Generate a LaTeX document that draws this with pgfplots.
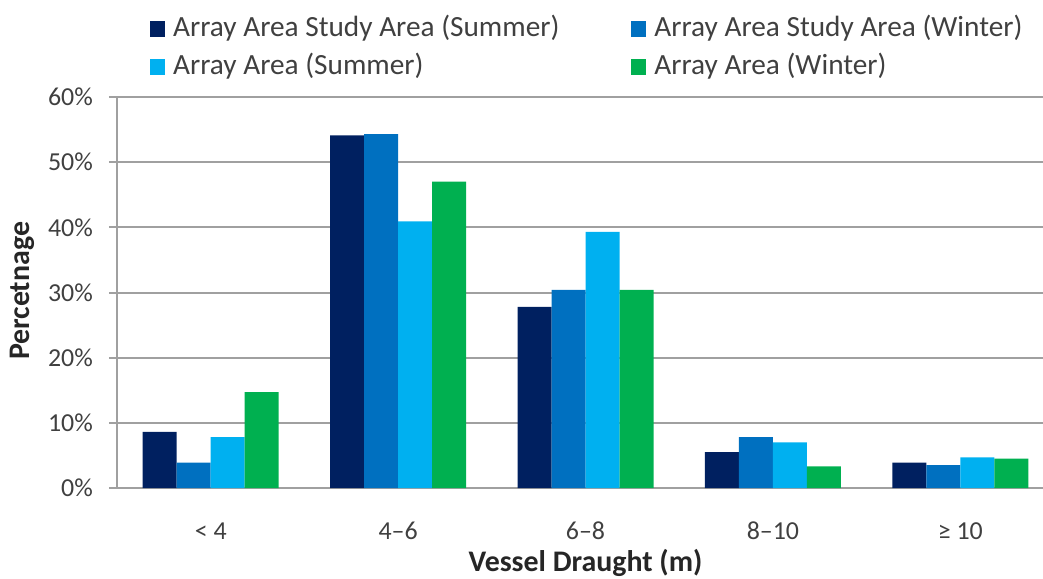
\documentclass[border=0pt]{standalone}
\usepackage{fontspec}
\setmainfont{Carlito}
\usepackage{pgfplots}
\pgfplotsset{compat=1.18}
\definecolor{cNavy}{HTML}{002060}
\definecolor{cBlue}{HTML}{0070C0}
\definecolor{cLight}{HTML}{00B0F0}
\definecolor{cGreen}{HTML}{00B050}
\definecolor{cGrid}{HTML}{A0A0A0}
\definecolor{cText}{HTML}{404040}
\begin{document}
\begin{tikzpicture}
\useasboundingbox (-117bp,-91bp) rectangle (926bp,488bp);
\begin{axis}[
  at={(0,0)}, anchor=south west,
  scale only axis,
  width=937bp, height=391bp,
  ybar=0pt, bar width=34bp,
  xmin=-0.5, xmax=4.5,
  ymin=0, ymax=60,
  xtick={0,1,2,3,4},
  xticklabels={{< 4},{4–6},{6–8},{8–10},{≥ 10}},
  ytick={0,10,20,30,40,50,60},
  yticklabels={0\%,10\%,20\%,30\%,40\%,50\%,60\%},
  axis lines*=left,
  axis line style={cGrid, line width=2bp},
  ymajorgrids, grid style={cGrid, line width=2bp},
  xtick style={draw=none},
  ytick style={cGrid, line width=2bp},
  tick align=outside, major tick length=8bp,
  ticklabel style={font=\fontsize{26}{30}\selectfont, text=cText},
  yticklabel style={anchor=east, inner sep=0pt, xshift=-16bp},
  xticklabel style={anchor=base, inner sep=0pt, yshift=-43bp},
  /pgf/number format/assume math mode=true,
  xlabel={\textbf{Vessel Draught (m)}},
  ylabel={\textbf{Percetnage}},
  xlabel style={at={(rel axis cs:0.5,-0.213)}, anchor=base, font=\fontsize{30}{34}\selectfont, text=black!85},
  ylabel style={at={(rel axis cs:-0.101,0.504)}, anchor=center, rotate=0, font=\fontsize{30}{34}\selectfont, text=black!85},
  legend columns=2,
  legend cell align=left,
  legend style={at={(rel axis cs:0.032,1.125)}, anchor=west, draw=none, fill=none,
    font=\fontsize{29.4}{33}\selectfont, text=cText,
    nodes={inner sep=0pt, text height=20bp, text depth=6bp},
    row sep=12bp,
    /tikz/every even column/.append style={column sep=72bp},
    /tikz/every odd column/.append style={column sep=8bp}},
  legend image code/.code={\fill[#1] (0bp,-7.5bp) rectangle (15bp,8.5bp);},
]
\addplot[fill=cNavy, draw=none] coordinates {(0,8.6) (1,54.1) (2,27.8) (3,5.5) (4,3.9)};
\addlegendentry{Array Area Study Area (Summer)}
\addplot[fill=cBlue, draw=none] coordinates {(0,3.9) (1,54.3) (2,30.4) (3,7.8) (4,3.5)};
\addlegendentry{Array Area Study Area (Winter)}
\addplot[fill=cLight, draw=none] coordinates {(0,7.8) (1,40.9) (2,39.3) (3,7.0) (4,4.7)};
\addlegendentry{Array Area (Summer)}
\addplot[fill=cGreen, draw=none] coordinates {(0,14.7) (1,47.0) (2,30.4) (3,3.3) (4,4.5)};
\addlegendentry{Array Area (Winter)}
\end{axis}
\end{tikzpicture}
\end{document}
